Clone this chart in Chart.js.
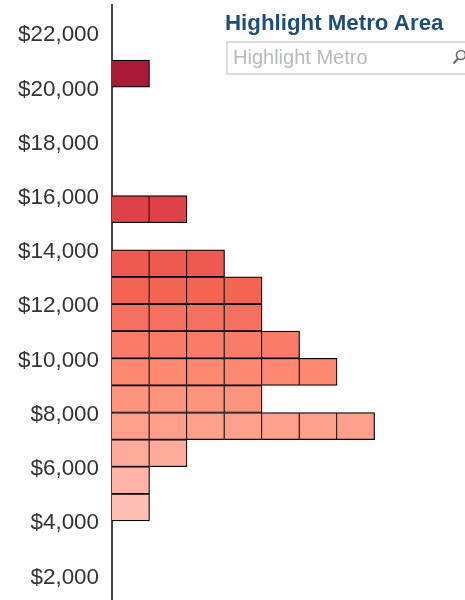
<!DOCTYPE html>
<html><head><meta charset="utf-8">
<script src="https://cdn.jsdelivr.net/npm/chart.js@4"></script>
<style>
html,body{margin:0;padding:0;background:#fff;overflow:hidden;width:465px;height:600px}
#wrap{position:relative;width:465px;height:600px;overflow:hidden}
canvas{position:absolute;left:0;top:0}
#title{position:absolute;left:225px;top:10px;font:bold 22.3px "Liberation Sans",Arial,sans-serif;color:#1f4e79;white-space:nowrap}
#box{position:absolute;left:226px;top:41px;width:260px;height:30px;border:2px solid #dcdcdc;box-sizing:content-box}
#ph{position:absolute;left:233px;top:46px;font:20px "Liberation Sans",Arial,sans-serif;color:#b8b8c0;white-space:nowrap}
#ic{position:absolute;left:452px;top:48px}
</style></head><body>
<div id="wrap">
<canvas id="c" width="465" height="600"></canvas>
<div id="title">Highlight Metro Area</div>
<div id="box"></div>
<div id="ph">Highlight Metro</div>
<svg id="ic" width="16" height="18" viewBox="0 0 16 18"><circle cx="9" cy="7" r="4.5" fill="none" stroke="#666" stroke-width="1.6"/><line x1="6" y1="10.5" x2="1.5" y2="15.5" stroke="#666" stroke-width="2"/></svg>
</div>
<script>
const rowMidpoints = [4500, 5500, 6500, 7500, 8500, 9500, 10500, 11500, 12500, 13500, 15500, 20500];
const rowCounts    = [1, 1, 2, 7, 4, 6, 5, 4, 4, 3, 2, 1];
const rowColors    = ['#FFBDB3','#FFB3A8','#FFAA9B','#FE9F8C','#FD947E','#FC8970','#F97C68','#F5705E','#F26553','#EF5A50','#E04048','#A8193A'];
const tickValues   = [2000,4000,6000,8000,10000,12000,14000,16000,18000,20000,22000];

const maxCols = Math.max(...rowCounts);
const datasets = [];
for (let col = 0; col < maxCols; col++) {
  const data = [], colors = [];
  rowMidpoints.forEach((m, i) => {
    if (rowCounts[i] > col) { data.push({x: 1, y: m}); colors.push(rowColors[i]); }
  });
  datasets.push({data, backgroundColor: colors, borderColor: '#000', borderWidth: 1.2});
}
new Chart(document.getElementById('c'), {
  type: 'bar',
  data: {datasets},
  options: {
    indexAxis: 'y',
    responsive: false,
    animation: false,
    layout: {padding: {top: 5, bottom: 0, left: 0, right: 0}},
    plugins: {legend: {display: false}, tooltip: {enabled: false}},
    datasets: {bar: {barPercentage: 1, categoryPercentage: 1}},
    scales: {
      x: {type: 'linear', stacked: true, display: false, min: 0, max: 9.41},
      y: {
        type: 'linear', stacked: true, offset: false, min: 1085, max: 23030,
        afterFit: s => { s.width = 112; s.paddingTop = 0; s.paddingBottom = 0; },
        afterBuildTicks: s => { s.ticks = tickValues.map(v => ({value: v})); },
        grid: {display: false, drawTicks: false, offset: false},
        border: {display: true, color: '#444', width: 2},
        ticks: {
          padding: 13,
          color: '#333',
          font: {family: '"Liberation Sans", Arial, sans-serif', size: 22.4, lineHeight: 0.2},
          callback: v => ['', '$' + Number(v).toLocaleString('en-US')]
        }
      }
    }
  }
});
</script>
</body></html>
